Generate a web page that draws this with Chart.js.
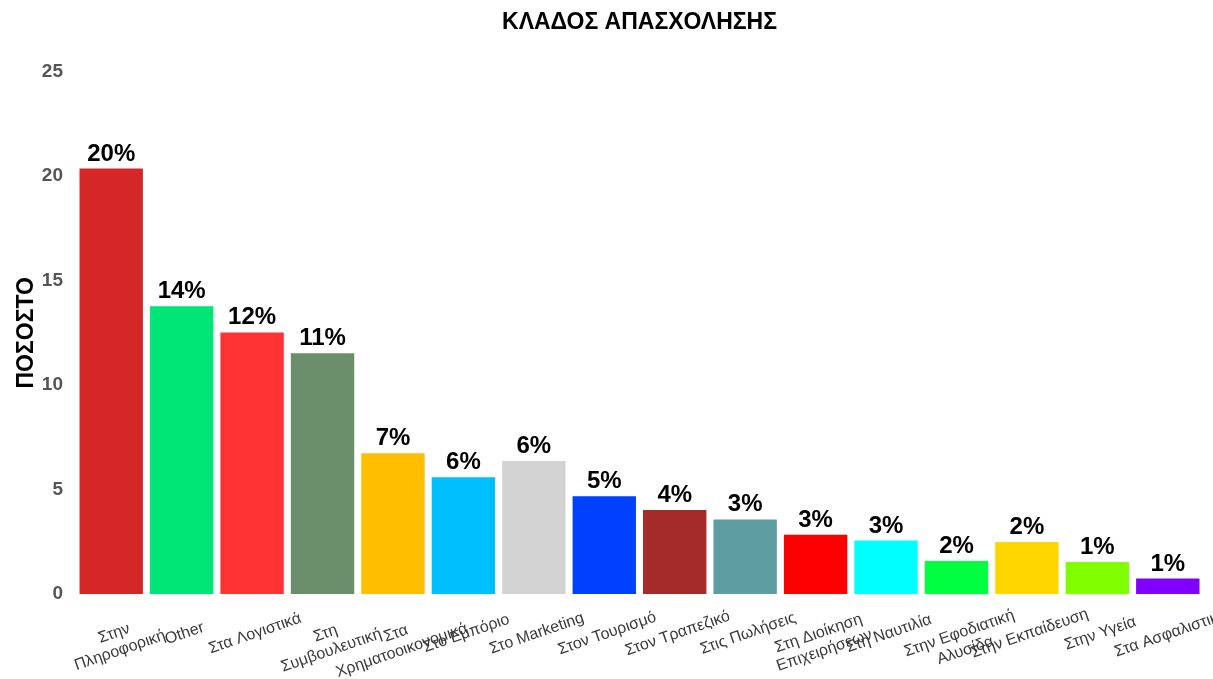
<!DOCTYPE html>
<html lang="el">
  <head>
    <meta charset="UTF-8" />
    <title>Κλάδος απασχόλησης</title>
    <script src="https://cdn.jsdelivr.net/npm/chart.js"></script>
    <style>
      body { margin: 0; background: #fff; }
      #wrap { width: 1213px; height: 679px; position: relative; }
    </style>
  </head>
  <body>
    <div id="wrap">
      <canvas id="grafico"></canvas>
    </div>

<script>
  // dados
  const categorias = [
    ["Στην", "Πληροφορική"],
    "Other",
    "Στα Λογιστικά",
    ["Στη", "Συμβουλευτική"],
    ["Στα", "Χρηματοοικονομικά"],
    "Στο Εμπόριο",
    "Στο Marketing",
    "Στον Τουρισμό",
    "Στον Τραπεζικό",
    "Στις Πωλήσεις",
    ["Στη Διοίκηση", "Επιχειρήσεων"],
    "Στη Ναυτιλία",
    ["Στην Εφοδιατική", "Αλυσίδα"],
    "Στην Εκπαίδευση",
    "Στην Υγεία",
    "Στα Ασφαλιστικά"
  ];
  const valores = [20.36, 13.77, 12.52, 11.52, 6.74, 5.59, 6.36, 4.68, 4.02, 3.57, 2.84, 2.56, 1.58, 2.49, 1.53, 0.74];
  const rotulos = ["20%", "14%", "12%", "11%", "7%", "6%", "6%", "5%", "4%", "3%", "3%", "3%", "2%", "2%", "1%", "1%"];
  const cores = [
    "#d62728", "#00e676", "#ff3333", "#6b8e6b", "#ffbf00", "#00bfff", "#d3d3d3", "#0040ff",
    "#a52a2a", "#5f9ea0", "#ff0000", "#00ffff", "#00ff40", "#ffd700", "#7fff00", "#8000ff"
  ];
  const ticksY = [0, 5, 10, 15, 20, 25];

  const fonte = "'Liberation Sans', Arial, Helvetica, sans-serif";

  // rotulos de valor em cima das barras
  const pluginRotulos = {
    id: "rotulos",
    afterDatasetsDraw(chart) {
      const ctx = chart.ctx;
      const meta = chart.getDatasetMeta(0);
      ctx.save();
      ctx.font = "bold 24px " + fonte;
      ctx.fillStyle = "#000";
      ctx.textAlign = "center";
      ctx.textBaseline = "alphabetic";
      meta.data.forEach(function (barra, i) {
        ctx.fillText(rotulos[i], barra.x, barra.y - 8);
      });
      ctx.restore();
    }
  };

  // rotulos do eixo x inclinados, ancorados no topo-centro
  const pluginEixoX = {
    id: "eixoX",
    afterDraw(chart) {
      const ctx = chart.ctx;
      const escala = chart.scales.x;
      const ang = 19 * Math.PI / 180;
      const alturaLinha = 18;
      const ancora = chart.chartArea.bottom + 31;
      ctx.save();
      ctx.font = "16px " + fonte;
      ctx.fillStyle = "#3a3a3a";
      ctx.textAlign = "center";
      ctx.textBaseline = "middle";
      categorias.forEach(function (cat, i) {
        const linhas = Array.isArray(cat) ? cat : [cat];
        const x = escala.getPixelForValue(i);
        ctx.save();
        ctx.translate(x, ancora);
        ctx.rotate(-ang);
        linhas.forEach(function (l, k) {
          ctx.fillText(l, 0, alturaLinha / 2 + k * alturaLinha);
        });
        ctx.restore();
      });
      ctx.restore();
    }
  };

  const config = {
    type: "bar",
    data: {
      labels: categorias,
      datasets: [{
        data: valores,
        backgroundColor: cores,
        borderWidth: 0,
        categoryPercentage: 0.9,
        barPercentage: 1
      }]
    },
    options: {
      responsive: true,
      maintainAspectRatio: false,
      animation: false,
      layout: { padding: { left: 0, right: 10, top: 0, bottom: 0 } },
      plugins: {
        legend: { display: false },
        tooltip: { enabled: false },
        title: {
          display: true,
          text: "ΚΛΑΔΟΣ ΑΠΑΣΧΟΛΗΣΗΣ",
          color: "#000",
          fullSize: false,
          font: { family: fonte, size: 23, weight: "bold" },
          padding: { top: 9, bottom: 35 }
        }
      },
      scales: {
        x: {
          grid: { display: false, drawTicks: false },
          border: { display: false },
          ticks: { display: false },
          afterFit: function (s) { s.height = 85; }
        },
        y: {
          min: 0,
          max: 25,
          afterBuildTicks: function (s) { s.ticks = ticksY.map(function (v) { return { value: v }; }); },
          grid: { display: false, drawTicks: false },
          border: { display: false },
          ticks: {
            color: "#555",
            padding: 13,
            font: { family: fonte, size: 19, weight: "bold" }
          },
          title: {
            display: true,
            text: "ΠΟΣΟΣΤΟ",
            color: "#000",
            font: { family: fonte, size: 23, weight: "bold" },
            padding: { top: 13, bottom: 0 }
          },
          afterFit: function (s) { s.width = 76; }
        }
      }
    },
    plugins: [pluginRotulos, pluginEixoX]
  };

  new Chart(document.getElementById("grafico"), config);
</script>
  </body>
</html>
